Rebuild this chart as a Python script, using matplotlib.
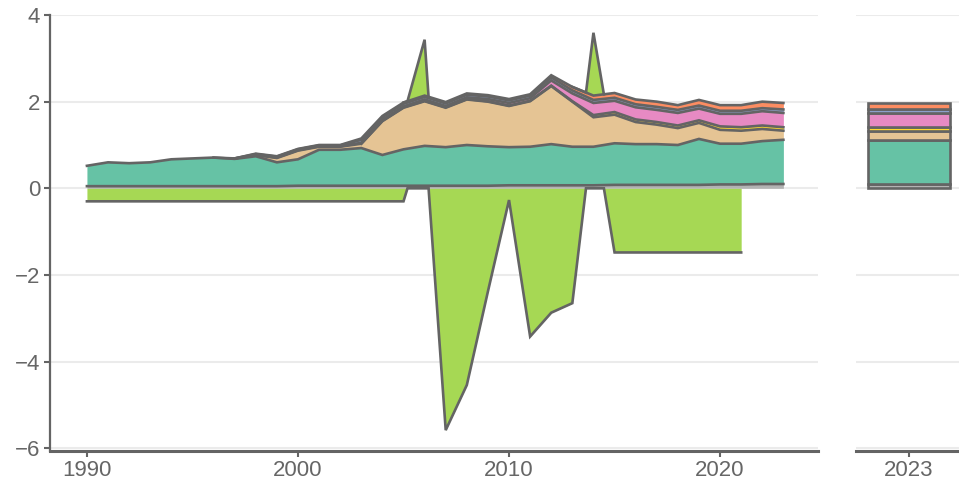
import numpy as np
import matplotlib
matplotlib.use("Agg")
import matplotlib.pyplot as plt

plt.rcParams['font.family'] = ['Liberation Sans', 'DejaVu Sans']

# --- data ---
years = np.arange(1990, 2024)

gray = [0.05]*10 + [0.06]*10 + [0.07]*5 + [0.08]*5 + [0.09, 0.09, 0.10, 0.10]
teal = [0.47, 0.55, 0.53, 0.55, 0.62, 0.64, 0.66, 0.63, 0.69, 0.55,
        0.61, 0.83, 0.83, 0.87, 0.71, 0.84, 0.92, 0.89, 0.94, 0.91,
        0.88, 0.89, 0.95, 0.89, 0.89,
        0.96, 0.94, 0.94, 0.92, 1.06,
        0.94, 0.94, 0.99, 1.02]
tan = [0, 0, 0, 0, 0, 0, 0, 0.01, 0.03, 0.10,
       0.20, 0.07, 0.07, 0.10, 0.78, 0.96, 1.03, 0.91, 1.05, 1.03,
       0.95, 1.05, 1.34, 1.04, 0.68, 0.66, 0.51, 0.45, 0.39, 0.37,
       0.32, 0.30, 0.28, 0.21]
yellow = [0]*14 + [0.01]*10 + [0.05] + [0.06]*5 + [0.08]*4
pink = [0]*9 + [0.01]*4 + [0.02]*3 + [0.03, 0.03, 0.04, 0.05, 0.06, 0.06,
        0.12, 0.18, 0.28, 0.26, 0.28, 0.28, 0.29, 0.27, 0.29, 0.31, 0.33, 0.33]
blue = [0]*8 + [0.02]*5 + [0.07] + [0.06]*8 + [0.07, 0.07] + [0.07]*9 + [0.08]
orange = [0]*8 + [0.01]*5 + [0.03]*9 + [0.05, 0.08, 0.10, 0.11, 0.11, 0.12,
          0.11, 0.13, 0.13, 0.13, 0.15, 0.15]
green = [-0.30]*16 + [1.29, -5.58, -4.54, -2.38, -0.27, -3.42, -2.87, -2.65,
         1.45] + [-1.48]*7 + [np.nan, np.nan]

layers = [
    (gray, '#b3b3b3'),
    (teal, '#66c2a5'),
    (tan, '#e5c494'),
    (yellow, '#ffd92f'),
    (pink, '#e78ac3'),
    (blue, '#8da0cb'),
    (orange, '#fc8d62'),
    (green, '#a6d854'),
]

EDGE = '#646464'
TXT = '#666666'
GRID = '#ebebeb'
LW = 1.9

# --- align: add zero-crossing points to the x grid (like ggplot stat_align) ---
xs = set(years.astype(float))
for vals, _ in layers:
    v = np.asarray(vals, dtype=float)
    for i in range(len(v) - 1):
        a, b = v[i], v[i + 1]
        if np.isfinite(a) and np.isfinite(b) and a * b < 0:
            xs.add(years[i] + a / (a - b))
grid = np.array(sorted(xs))


def on_grid(vals):
    v = np.asarray(vals, dtype=float)
    ok = np.isfinite(v)
    out = np.interp(grid, years[ok], v[ok])
    out[(grid < years[ok][0]) | (grid > years[ok][-1])] = np.nan
    return out


def near(cond):
    keep = cond.copy()
    keep[1:] |= cond[:-1]
    keep[:-1] |= cond[1:]
    return keep


fig = plt.figure(figsize=(9.59, 4.93), dpi=100)
ax1 = fig.add_axes([50/959, 42.5/493, 768/959, 435.5/493])
ax2 = fig.add_axes([856/959, 42.5/493, 103/959, 435.5/493])

pos_base = np.zeros_like(grid)
neg_base = np.zeros_like(grid)
lines = []
for vals, col in layers:
    v = on_grid(vals)
    vp = np.clip(v, 0, None)
    vn = np.clip(v, None, 0)
    up = pos_base + vp
    dn = neg_base + vn
    ax1.fill_between(grid, pos_base, up, color=col, lw=0, zorder=2)
    ax1.fill_between(grid, neg_base, dn, color=col, lw=0, zorder=2)
    cp = np.nan_to_num(v) > 0
    cn = np.nan_to_num(v) < 0
    lines.append(np.where(near(cp), up, np.nan))
    lines.append(np.where(near(cn), dn, np.nan))
    pos_base = pos_base + np.nan_to_num(vp)
    neg_base = neg_base + np.nan_to_num(vn)

for ln in lines:
    ax1.plot(grid, ln, color=EDGE, lw=LW, zorder=3, solid_joinstyle='miter')

# --- 2023 bar ---
bottom = 0.0
for vals, col in layers:
    val = vals[-1]
    if not np.isfinite(val):
        continue
    ax2.bar(years[-1], val, bottom=bottom, width=0.8, color=col,
            edgecolor=EDGE, linewidth=LW, zorder=3)
    bottom += val

# --- axes styling ---
for ax in (ax1, ax2):
    ax.set_ylim(-6.05, 4.0)
    ax.set_yticks([-6, -4, -2, 0, 2, 4])
    ax.grid(axis='y', color=GRID, lw=1.5, zorder=0)
    ax.set_axisbelow(True)
    for s in ('top', 'right'):
        ax.spines[s].set_visible(False)
    ax.spines['bottom'].set_color(EDGE)
    ax.spines['bottom'].set_linewidth(2.2)
    ax.tick_params(axis='x', length=4, width=1.5, color=EDGE, pad=3,
                   labelsize=16, labelcolor=TXT)
    ax.tick_params(axis='y', length=4, width=1.5, color=EDGE, pad=3,
                   labelsize=16, labelcolor=TXT)

ax1.set_xlim(1988.25, 2024.64)
ax1.set_xticks([1990, 2000, 2010, 2020])
ax1.spines['left'].set_color(EDGE)
ax1.spines['left'].set_linewidth(1.6)

ax2.set_xlim(2022.48, 2023.49)
ax2.set_xticks([2023])
ax2.spines['left'].set_visible(False)
ax2.tick_params(axis='y', left=False, labelleft=False)

plt.savefig('out.png', dpi=100)
